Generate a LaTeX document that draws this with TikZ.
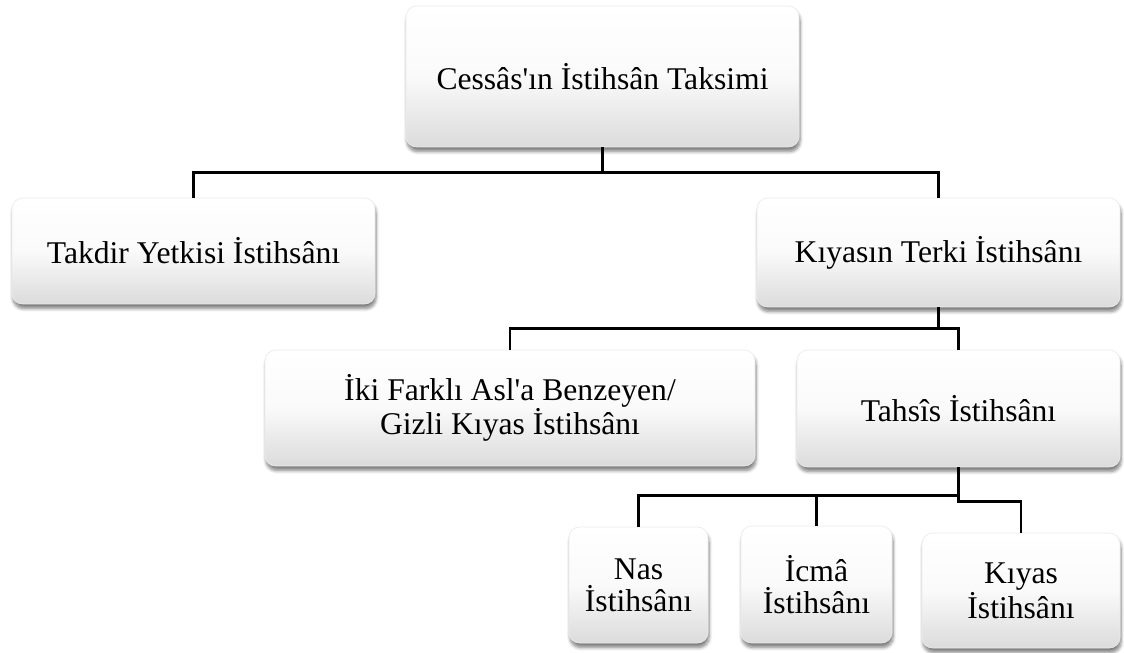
\documentclass[tikz,border=0pt]{standalone}
\usepackage{fontspec}
\setmainfont{Liberation Serif}[Ligatures=TeXOff]
\usepackage{tikz}
\usetikzlibrary{shadows.blur}

\begin{document}
\begin{tikzpicture}[x=0.02cm, y=-0.02cm,
  box/.style={rounded corners=6pt, top color=white, bottom color=black!14, middle color=black!2,
    draw=black!8, line width=0.4pt, align=center, inner sep=0pt,
    font=\fontsize{18}{18.2}\selectfont,
    blur shadow={shadow xshift=0.6pt, shadow yshift=-2.6pt, shadow blur steps=6, shadow opacity=50}},
  link/.style={black, line width=1.6pt}]
  \useasboundingbox (0,0) rectangle (1124,652);
  \node[box, minimum width=7.86cm, minimum height=2.82cm] (root) at (602.5,76.5) {Cessâs'ın İstihsân Taksimi};
  \node[box, minimum width=7.26cm, minimum height=2.12cm] (takdir) at (193.5,251) {Takdir Yetkisi İstihsânı};
  \node[box, minimum width=7.26cm, minimum height=2.18cm] (kiyasin) at (938.5,252.5) {Kıyasın Terki İstihsânı};
  \node[box, minimum width=9.8cm, minimum height=2.32cm] (iki) at (510,408) {İki Farklı Asl'a Benzeyen/\\Gizli Kıyas İstihsânı};
  \node[box, minimum width=6.46cm, minimum height=2.34cm] (tahsis) at (958.5,408.5) {Tahsîs İstihsânı};
  \node[box, minimum width=2.78cm, minimum height=2.32cm] (nas) at (638.5,585) {Nas\\İstihsânı};
  \node[box, minimum width=3.02cm, minimum height=2.34cm] (icma) at (816.5,584.5) {İcmâ\\İstihsânı};
  \node[box, minimum width=3.96cm, minimum height=2.3cm] (kiyas) at (1021,590.5) {Kıyas\\İstihsânı};
  \draw[link] (root.south) -- ++(0,25) -| (takdir.north);
  \draw[link] (root.south) -- ++(0,25) -| (kiyasin.north);
  \draw[link] (kiyasin.south) -- ++(0,21) -| (iki.north);
  \draw[link] (kiyasin.south) -- ++(0,21) -| (tahsis.north);
  \draw[link] (tahsis.south) -- ++(0,28) -| (nas.north);
  \draw[link] (tahsis.south) -- ++(0,28) -| (icma.north);
  \draw[link] (tahsis.south) -- ++(0,34) -| (kiyas.north);
\end{tikzpicture}
\end{document}
